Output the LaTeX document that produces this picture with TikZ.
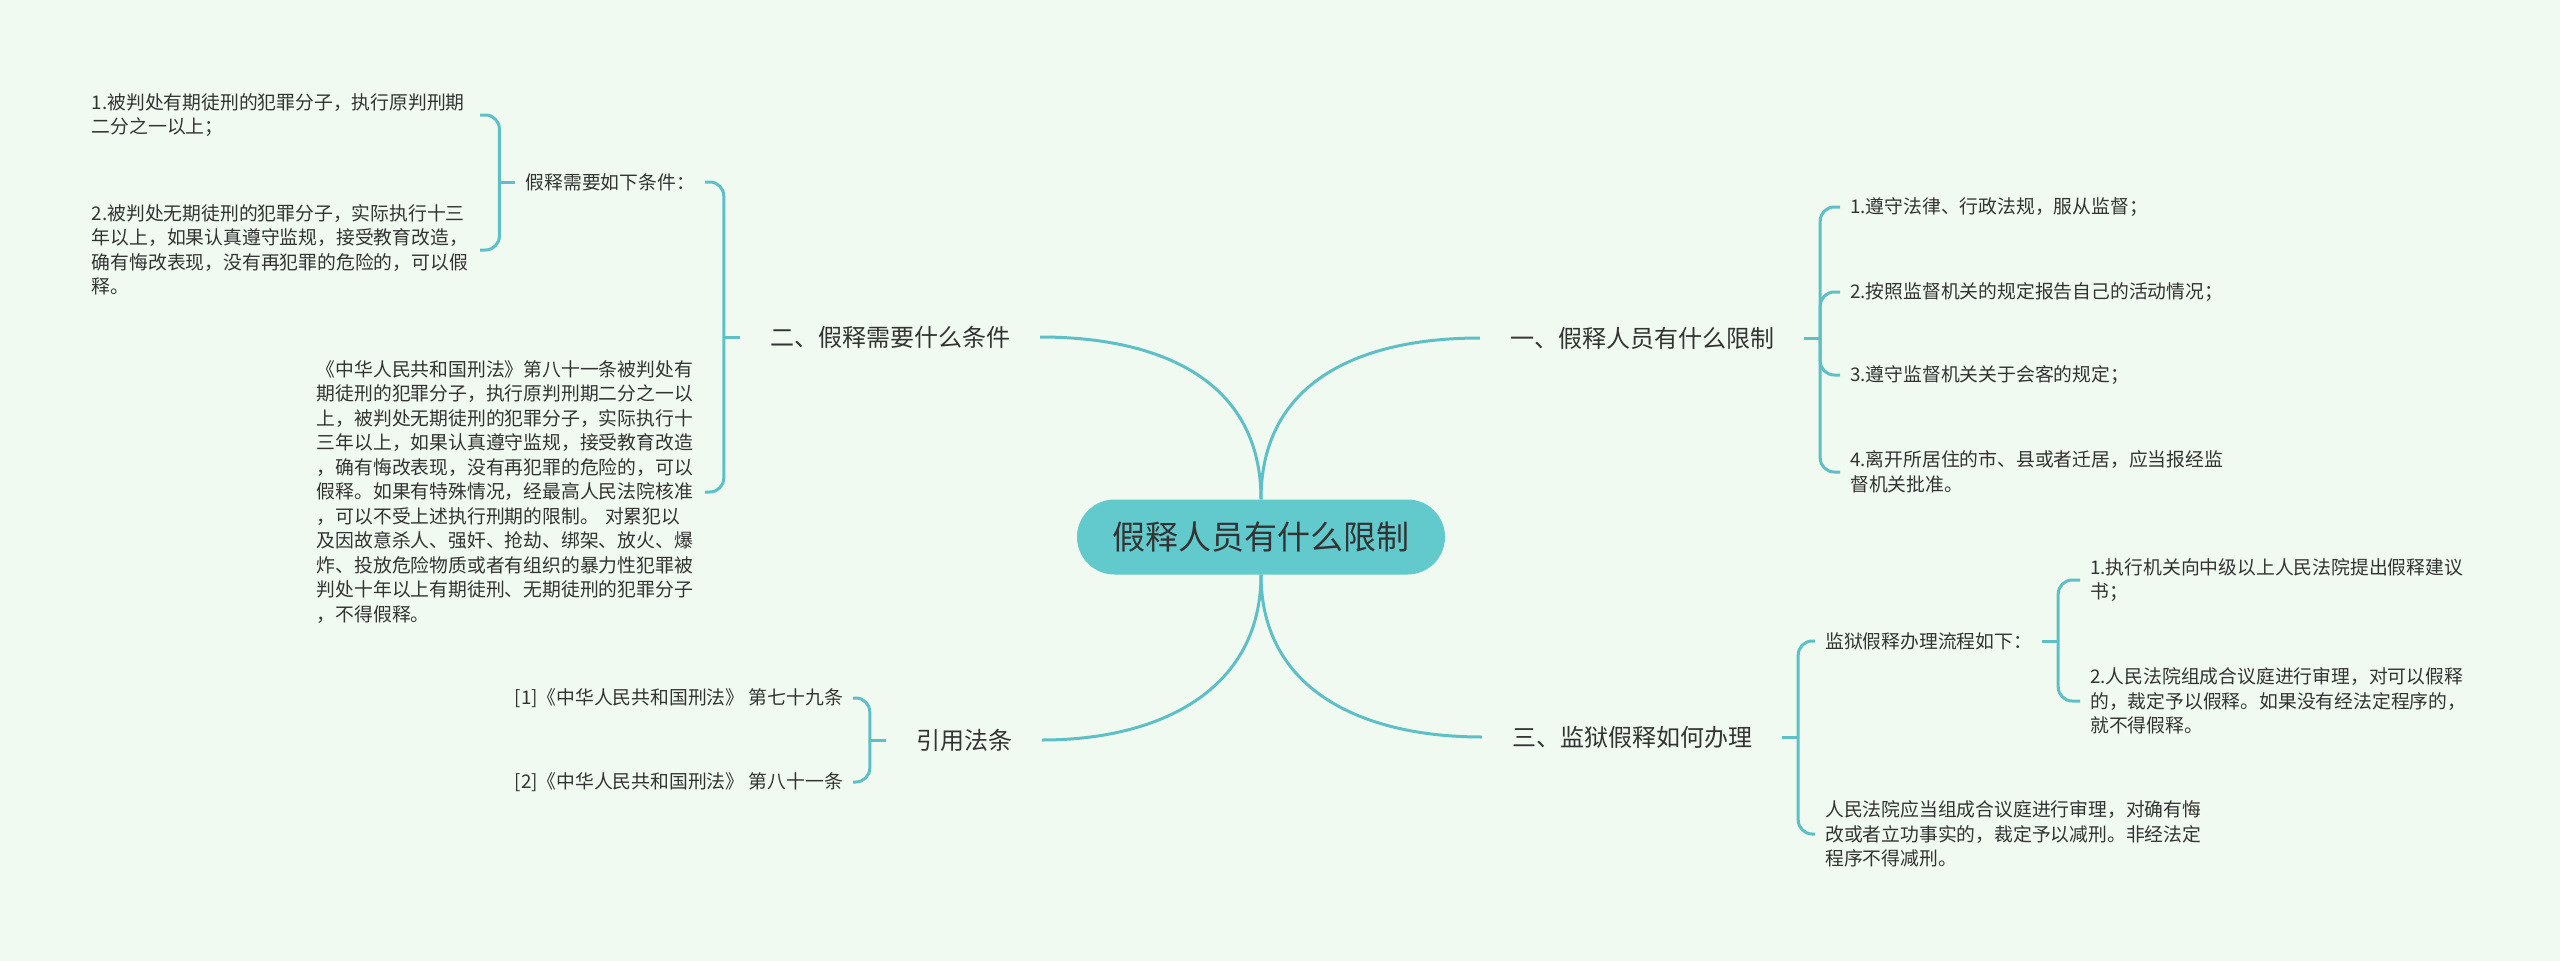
\documentclass[tikz,border=0pt]{standalone}
\usepackage{fontspec}
\newfontfamily\cjk{Noto Sans CJK SC}
\usepackage{tikz}
\usetikzlibrary{positioning,calc}
\definecolor{bgc}{RGB}{240,250,240}
\definecolor{rootc}{RGB}{98,202,205}
\definecolor{linec}{RGB}{94,192,198}
\definecolor{txtc}{RGB}{51,51,51}

\begin{document}
\begin{tikzpicture}[x=1pt,y=-1pt,
    root/.style={fill=rootc,rounded corners=37.5pt,minimum width=368pt,minimum height=75pt,text=txtc,font=\cjk\fontsize{33}{39}\selectfont},
    topic/.style={text=txtc,inner xsep=30pt,font=\cjk\fontsize{24}{30}\selectfont},
    leaf/.style={text=txtc,align=left,inner xsep=10pt,inner ysep=0pt,font=\cjk\fontsize{18.8}{24.5}\selectfont},
    wide/.style={leaf,text width=378pt},
    link/.style={draw=linec,line width=3pt},
    brace/.style={link,rounded corners=14pt}]
    \fill[bgc] (0,0) rectangle (2560,961);
    \useasboundingbox (0,0) rectangle (2560,961);
    \node[root] (r) at (1261,537) {假释人员有什么限制};
    \node[topic] (t_1) at (1642,338) {一、假释人员有什么限制};
    \node[topic] (t_2) at (890,337) {二、假释需要什么条件};
    \node[topic] (t_3) at (1632,737) {三、监狱假释如何办理};
    \node[topic] (t_4) at (964,740) {引用法条};
    \draw[link] (r.north) .. controls (1261,380) and (1362,338) .. (t_1.west);
    \draw[link] (r.north) .. controls (1261,380) and (1160,337) .. (t_2.east);
    \draw[link] (r.south) .. controls (1261,690) and (1362,737) .. (t_3.west);
    \draw[link] (r.south) .. controls (1261,690) and (1160,740) .. (t_4.east);
    \draw[link] (t_1.east) -- ++(16,0) coordinate (j_1);
    \draw[link] (t_2.west) -- ++(-16,0) coordinate (j_2);
    \draw[link] (t_3.east) -- ++(16,0) coordinate (j_3);
    \draw[link] (t_4.west) -- ++(-16,0) coordinate (j_4);

    \node[leaf,anchor=west] (l_11) at (1840,207) {1.遵守法律、行政法规，服从监督；};
    \node[leaf,anchor=west] (l_12) at (1840,292) {2.按照监督机关的规定报告自己的活动情况；};
    \node[leaf,anchor=west] (l_13) at (1840,375) {3.遵守监督机关关于会客的规定；};
    \node[leaf,anchor=west] (l_14) at (1840,472) {4.离开所居住的市、县或者迁居，应当报经监\\督机关批准。};
    \draw[brace] (j_1) |- (l_11.west);
    \draw[brace] (j_1) |- (l_12.west);
    \draw[brace] (j_1) |- (l_13.west);
    \draw[brace] (j_1) |- (l_14.west);

    \node[leaf,anchor=east] (l_21) at (705,182) {假释需要如下条件：};
    \node[wide,anchor=east] (l_22) at (705,492) {《中华人民共和国刑法》第八十一条被判处有\\期徒刑的犯罪分子，执行原判刑期二分之一以\\上，被判处无期徒刑的犯罪分子，实际执行十\\三年以上，如果认真遵守监规，接受教育改造\\，确有悔改表现，没有再犯罪的危险的，可以\\假释。如果有特殊情况，经最高人民法院核准\\，可以不受上述执行刑期的限制。 对累犯以\\及因故意杀人、强奸、抢劫、绑架、放火、爆\\炸、投放危险物质或者有组织的暴力性犯罪被\\判处十年以上有期徒刑、无期徒刑的犯罪分子\\，不得假释。};
    \draw[brace] (j_2) |- (l_21.east);
    \draw[brace] (j_2) |- (l_22.east);
    \draw[link] (l_21.west) -- ++(-16,0) coordinate (j_21);
    \node[wide,anchor=east] (l_211) at (480,115) {1.被判处有期徒刑的犯罪分子，执行原判刑期\\二分之一以上；};
    \node[wide,anchor=east] (l_212) at (480,250) {2.被判处无期徒刑的犯罪分子，实际执行十三\\年以上，如果认真遵守监规，接受教育改造，\\确有悔改表现，没有再犯罪的危险的，可以假\\释。};
    \draw[brace] (j_21) |- (l_211.east);
    \draw[brace] (j_21) |- (l_212.east);

    \node[leaf,anchor=west] (l_31) at (1815,641) {监狱假释办理流程如下：};
    \node[leaf,anchor=west] (l_32) at (1815,834) {人民法院应当组成合议庭进行审理，对确有悔\\改或者立功事实的，裁定予以减刑。非经法定\\程序不得减刑。};
    \draw[brace] (j_3) |- (l_31.west);
    \draw[brace] (j_3) |- (l_32.west);
    \draw[link] (l_31.east) -- ++(16,0) coordinate (j_31);
    \node[leaf,anchor=west] (l_311) at (2080,580) {1.执行机关向中级以上人民法院提出假释建议\\书；};
    \node[leaf,anchor=west] (l_312) at (2080,701) {2.人民法院组成合议庭进行审理，对可以假释\\的，裁定予以假释。如果没有经法定程序的，\\就不得假释。};
    \draw[brace] (j_31) |- (l_311.west);
    \draw[brace] (j_31) |- (l_312.west);

    \node[leaf,anchor=east] (l_41) at (853,698) {[1]《中华人民共和国刑法》 第七十九条};
    \node[leaf,anchor=east] (l_42) at (853,782) {[2]《中华人民共和国刑法》 第八十一条};
    \draw[brace] (j_4) |- (l_41.east);
    \draw[brace] (j_4) |- (l_42.east);
\end{tikzpicture}
\end{document}
